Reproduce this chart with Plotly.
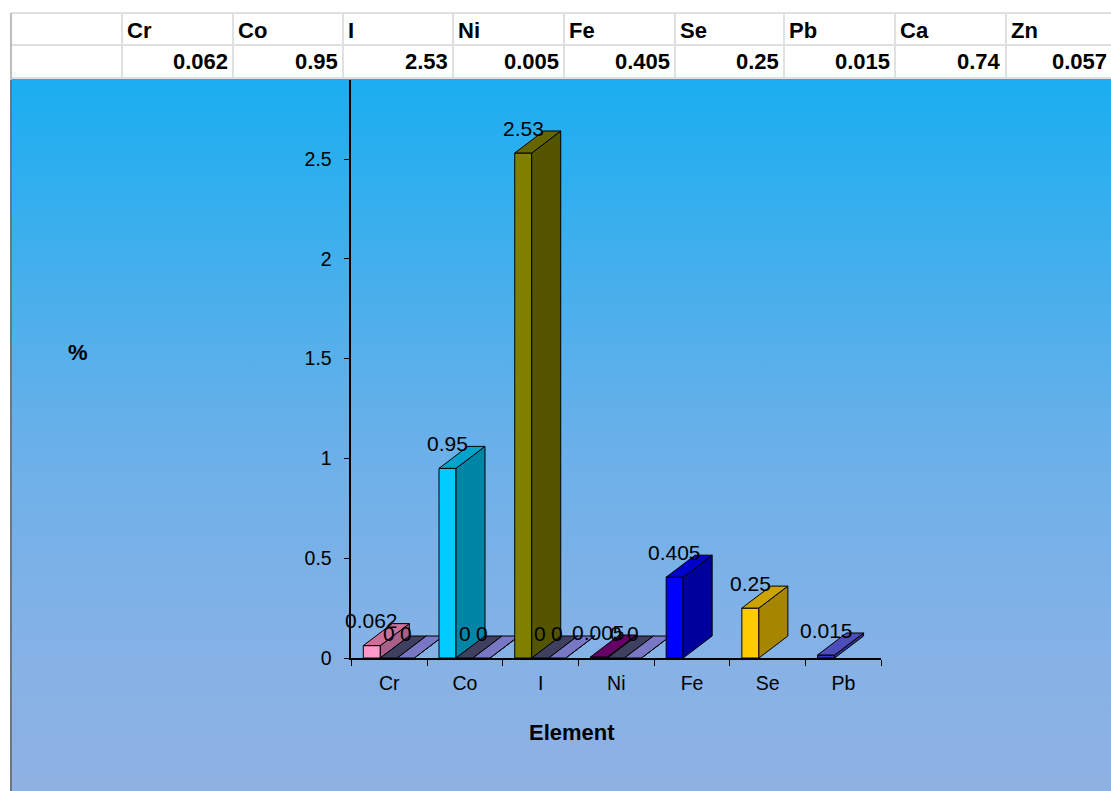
import plotly.graph_objects as go

# Values shown in the header table
table_elements = ["Cr", "Co", "I", "Ni", "Fe", "Se", "Pb", "Ca", "Zn"]
table_values = ["0.062", "0.95", "2.53", "0.005", "0.405", "0.25", "0.015", "0.74", "0.057"]
column_edges = [122, 233, 343, 453, 564, 675, 784, 895, 1006, 1112]

# Plotted elements and their three series
categories = ["Cr", "Co", "I", "Ni", "Fe", "Se", "Pb"]
main_values = [0.062, 0.95, 2.53, 0.005, 0.405, 0.25, 0.015]
second_values = [0, 0, 0, 0, None, None, None]
third_values = [0, 0, 0, 0, None, None, None]

# Front, top and side shades for each element
main_colors = [
    ("#FF99CC", "#CC6F99", "#A8608A"),
    ("#00CCFF", "#00A3CC", "#0085A6"),
    ("#808000", "#666600", "#555500"),
    ("#660066", "#660066", "#440044"),
    ("#0000FF", "#0000CC", "#00009C"),
    ("#FFCC00", "#CCA300", "#A68500"),
    ("#3333CC", "#4D4DBB", "#333399"),
]
second_top = "#3F3F60"
third_top = "#7777C4"

W, H = 1111, 791
PX_X = 530 / 7      # pixels per category
PX_Y = 199.6        # pixels per y unit
SLOT = 17 / PX_X    # width of one column
GAP = 12 / PX_X     # gap before the first column of a category
DX = 29 / PX_X      # depth offset of the 3D faces
DY = 22 / PX_Y
LABEL_FONT = 21

fig = go.Figure()

# Gradient backdrop on its own full-width subplot, below the chart
fig.add_trace(go.Scatter(
    x=[0, 1, 1, 0, 0], y=[0, 0, 1, 1, 0], mode="lines", fill="toself",
    line=dict(width=0), hoverinfo="skip", showlegend=False,
    fillgradient=dict(type="vertical", colorscale=[
        [0, "#8FB1E2"], [0.198, "#85B2E6"], [0.472, "#6CB0E9"],
        [0.725, "#45AFEC"], [1, "#1AAEF0"],
    ]),
    xaxis="x", yaxis="y",
))


def face(xs, ys, color):
    fig.add_trace(go.Scatter(
        x=xs, y=ys, mode="lines", fill="toself", fillcolor=color,
        line=dict(color="#000000", width=1), hoverinfo="skip",
        showlegend=False, xaxis="x2", yaxis="y2",
    ))


def column(left, value, front, top, side):
    right = left + SLOT
    face([left, right, right, left, left], [0, 0, value, value, 0], front)
    face([right, right + DX, right + DX, right, right],
         [0, DY, value + DY, value, 0], side)
    face([left, right, right + DX, left + DX, left],
         [value, value, value + DY, value + DY, value], top)


annotations = []


def value_label(x, value):
    annotations.append(dict(
        x=x, y=value, xref="x2", yref="y2", text=f"{value:g}", showarrow=False,
        xanchor="center", yanchor="middle", yshift=25,
        font=dict(size=LABEL_FONT, color="#000000"),
    ))


# Columns are painted from left to right so later ones overlap earlier ones
for i, cat in enumerate(categories):
    start = i + GAP
    front, top, side = main_colors[i]
    column(start, main_values[i], front, top, side)
    if second_values[i] is not None:
        column(start + SLOT, second_values[i], second_top, second_top, second_top)
    if third_values[i] is not None:
        column(start + 2 * SLOT, third_values[i], third_top, third_top, third_top)

for i, cat in enumerate(categories):
    start = i + GAP
    value_label(start + SLOT / 2, main_values[i])
    if second_values[i] is not None:
        value_label(start + 1.5 * SLOT, second_values[i])
    if third_values[i] is not None:
        value_label(start + 2.5 * SLOT, third_values[i])

annotations.append(dict(x=78 / W, y=1 - 352 / H, xref="paper", yref="paper", text="<b>%</b>",
                        xanchor="center", yanchor="middle",
                        showarrow=False, font=dict(size=22, color="#000000")))
annotations.append(dict(x=572 / W, y=1 - 732 / H, xref="paper", yref="paper", text="<b>Element</b>",
                        xanchor="center", yanchor="middle",
                        showarrow=False, font=dict(size=22, color="#000000")))

# Header table drawn as a grid of lines with text in each cell
TABLE_TOP, ROW_LINE, TABLE_BOTTOM = 13, 45, 78
GRID = "#E0E0E0"
table_font = dict(size=22, color="#000000")
shapes = [dict(type="rect", xref="paper", yref="paper", x0=11 / W, x1=1,
               y0=1 - TABLE_BOTTOM / H, y1=1 - TABLE_TOP / H,
               fillcolor="#FFFFFF", line=dict(width=0))]
for y_px in (TABLE_TOP, ROW_LINE, TABLE_BOTTOM):
    shapes.append(dict(type="line", xref="paper", yref="paper", x0=11 / W, x1=1,
                       y0=1 - y_px / H, y1=1 - y_px / H, line=dict(color=GRID, width=2)))
for x_px in column_edges[:-1]:
    shapes.append(dict(type="line", xref="paper", yref="paper", x0=x_px / W, x1=x_px / W,
                       y0=1 - TABLE_BOTTOM / H, y1=1 - TABLE_TOP / H, line=dict(color=GRID, width=2)))
shapes.append(dict(type="line", xref="paper", yref="paper", x0=11 / W, x1=11 / W,
                   y0=0, y1=1 - 80 / H, line=dict(color="#6B7785", width=2)))
shapes.append(dict(type="line", xref="paper", yref="paper", x0=11 / W, x1=11 / W,
                   y0=1 - 80 / H, y1=1 - TABLE_TOP / H, line=dict(color="#A8A8A8", width=1.5)))

for k, (name, val) in enumerate(zip(table_elements, table_values)):
    annotations.append(dict(
        x=(column_edges[k] + 3) / W, y=1 - 30 / H, xref="paper", yref="paper",
        text=f"<b>{name}</b>", showarrow=False, xanchor="left", yanchor="middle", font=table_font,
    ))
    annotations.append(dict(
        x=(column_edges[k + 1] - 3) / W, y=1 - 62 / H, xref="paper", yref="paper",
        text=f"<b>{val}</b>", showarrow=False, xanchor="right", yanchor="middle", font=table_font,
    ))

tick_font = dict(size=19.5, color="#000000")
fig.update_layout(
    width=W, height=H, margin=dict(l=0, r=0, t=0, b=0),
    autosize=False,
    paper_bgcolor="#FFFFFF", plot_bgcolor="rgba(0,0,0,0)",
    font=dict(family="Liberation Sans, Arial, sans-serif", color="#000000"),
    showlegend=False, annotations=annotations, shapes=shapes,
    xaxis=dict(domain=[12 / W, 1], range=[0, 1], visible=False, fixedrange=True, automargin=False),
    yaxis=dict(domain=[0, 1 - 79 / H], range=[0, 1], visible=False, fixedrange=True, automargin=False),
    xaxis2=dict(
        domain=[351.3 / W, 881.3 / W], range=[0, 7], anchor="y2", fixedrange=True, automargin=False,
        showgrid=False, zeroline=False, showline=True, linecolor="#000000", linewidth=1.5,
        tickmode="array", tickvals=[i + 0.5 for i in range(7)], ticktext=categories,
        ticks="outside", ticklen=7, tickcolor="rgba(0,0,0,0)", tickfont=tick_font,
        minor=dict(tickmode="array", tickvals=list(range(8)), ticks="outside",
                   ticklen=6, tickcolor="#000000", tickwidth=1, showgrid=False),
    ),
    yaxis2=dict(
        domain=[1 - 658 / H, 1 - 80 / H], range=[0, 578 / PX_Y], anchor="x2", fixedrange=True,
        automargin=False,
        showgrid=False, zeroline=False, showline=True, linecolor="#000000", linewidth=1.5,
        tickmode="array", tickvals=[0, 0.5, 1, 1.5, 2, 2.5],
        ticktext=["0", "0.5", "1", "1.5", "2", "2.5"],
        ticks="outside", ticklen=14, tickcolor="rgba(0,0,0,0)", tickfont=tick_font,
        minor=dict(tickmode="array", tickvals=[0, 0.5, 1, 1.5, 2, 2.5], ticks="outside",
                   ticklen=6, tickcolor="#000000", tickwidth=1, showgrid=False),
    ),
)

fig.write_html("out.html")
